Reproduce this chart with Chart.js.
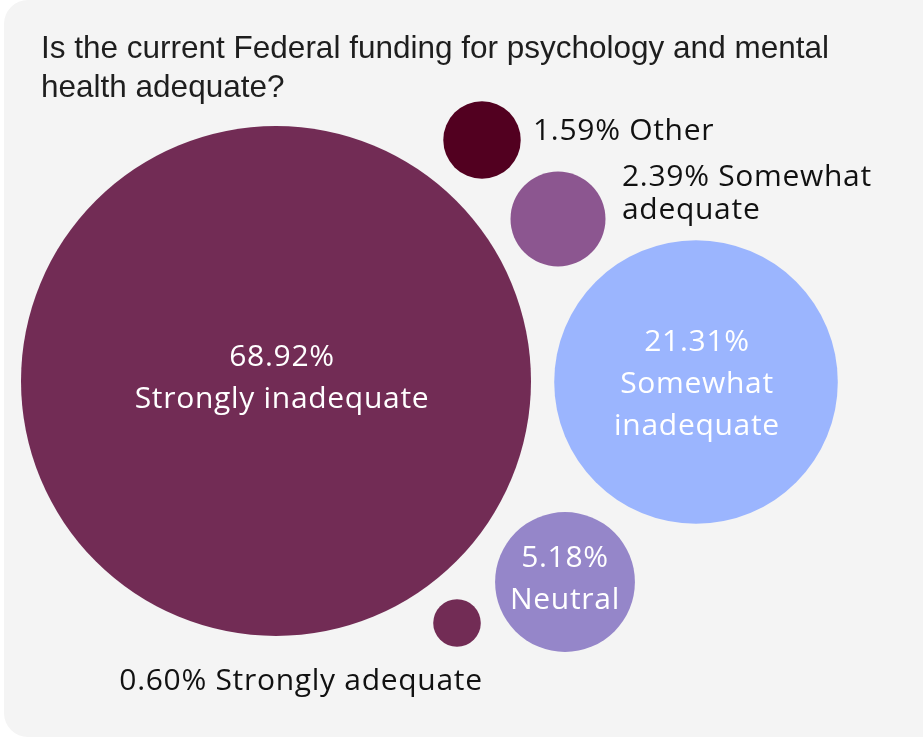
<!DOCTYPE html>
<html>
<head>
<meta charset="utf-8">
<script src="https://cdn.jsdelivr.net/npm/chart.js@4/dist/chart.umd.min.js"></script>
<style>
  body { margin: 0; background: #ffffff; overflow: hidden; }
  #panel {
    position: absolute; left: 4px; top: 0; width: 950px; height: 737px;
    background: #f4f4f4; border-radius: 24px;
  }
  #title {
    position: absolute; left: 41px; top: 28px; width: 900px;
    font-family: "Liberation Sans", Arial, sans-serif; font-size: 31.5px;
    line-height: 39px; color: #1e1e1e;
  }
  canvas { position: absolute; left: 0; top: 0; }
</style>
</head>
<body>
<div id="panel"></div>
<canvas id="bubbleChart" width="923" height="742"></canvas>
<div id="title">Is the current Federal funding for psychology and mental<br>health adequate?</div>
<script>
const categories = ["Strongly inadequate", "Somewhat inadequate", "Neutral", "Somewhat adequate", "Other", "Strongly adequate"];
const shares = [68.92, 21.31, 5.18, 2.39, 1.59, 0.60];
const colors = ["#722c55", "#9bb5fe", "#9586c9", "#8c5690", "#520020", "#722c55"];

// where each bubble sits (packed layout, not data)
const bubbleX = [276, 696, 565, 558, 482, 457];
const bubbleY = [381, 382, 582, 219, 140, 623];

// label placement: inside the bubble or outside next to it
const labelLines = [
    ["68.92%", "Strongly inadequate"],
    ["21.31%", "Somewhat", "inadequate"],
    ["5.18%", "Neutral"],
    ["2.39% Somewhat", "adequate"],
    ["1.59% Other"],
    ["0.60% Strongly adequate"]
];
const labelInside = [true, true, true, false, false, false];
const labelOffsetX = [6, 1, 0, 64, 51, -156];
const labelOffsetY = [-3, 2, -3, -42, -9, 58];

const radiusScale = 255 / Math.sqrt(68.92);

const bubbleLabels = {
    id: "bubbleLabels",
    afterDatasetsDraw(chart) {
        const ctx = chart.ctx;
        const meta = chart.getDatasetMeta(0);
        ctx.save();
        ctx.font = '30px "Open Sans", sans-serif';
        ctx.letterSpacing = "0.7px";
        ctx.textBaseline = "middle";
        meta.data.forEach((pt, i) => {
            const lines = labelLines[i];
            const lh = labelInside[i] ? 42 : 33;
            const cx = pt.x + labelOffsetX[i];
            const cy = pt.y + labelOffsetY[i];
            if (labelInside[i]) {
                ctx.fillStyle = "#ffffff";
                ctx.textAlign = "center";
                const top = cy - (lines.length - 1) * lh / 2;
                lines.forEach((l, j) => ctx.fillText(l, cx, top + j * lh));
            } else {
                ctx.fillStyle = "#111111";
                ctx.textAlign = i === 5 ? "center" : "left";
                lines.forEach((l, j) => ctx.fillText(l, cx, cy + j * lh));
            }
        });
        ctx.restore();
    }
};

new Chart(document.getElementById("bubbleChart"), {
    type: "bubble",
    data: {
        labels: categories,
        datasets: [{
            data: shares.map((v, i) => ({ x: bubbleX[i], y: bubbleY[i], v: v })),
            radius: c => Math.sqrt(shares[c.dataIndex]) * radiusScale,
            backgroundColor: colors,
            borderWidth: 0,
            hoverBorderWidth: 0,
            clip: false
        }]
    },
    options: {
        responsive: false,
        animation: false,
        events: [],
        layout: { padding: 0, autoPadding: false },
        plugins: {
            legend: { display: false },
            tooltip: { enabled: false },
            title: { display: false }
        },
        scales: {
            x: { type: "linear", min: 0, max: 923, display: false },
            y: { type: "linear", min: 0, max: 742, reverse: true, display: false }
        }
    },
    plugins: [bubbleLabels]
});
</script>
</body>
</html>
